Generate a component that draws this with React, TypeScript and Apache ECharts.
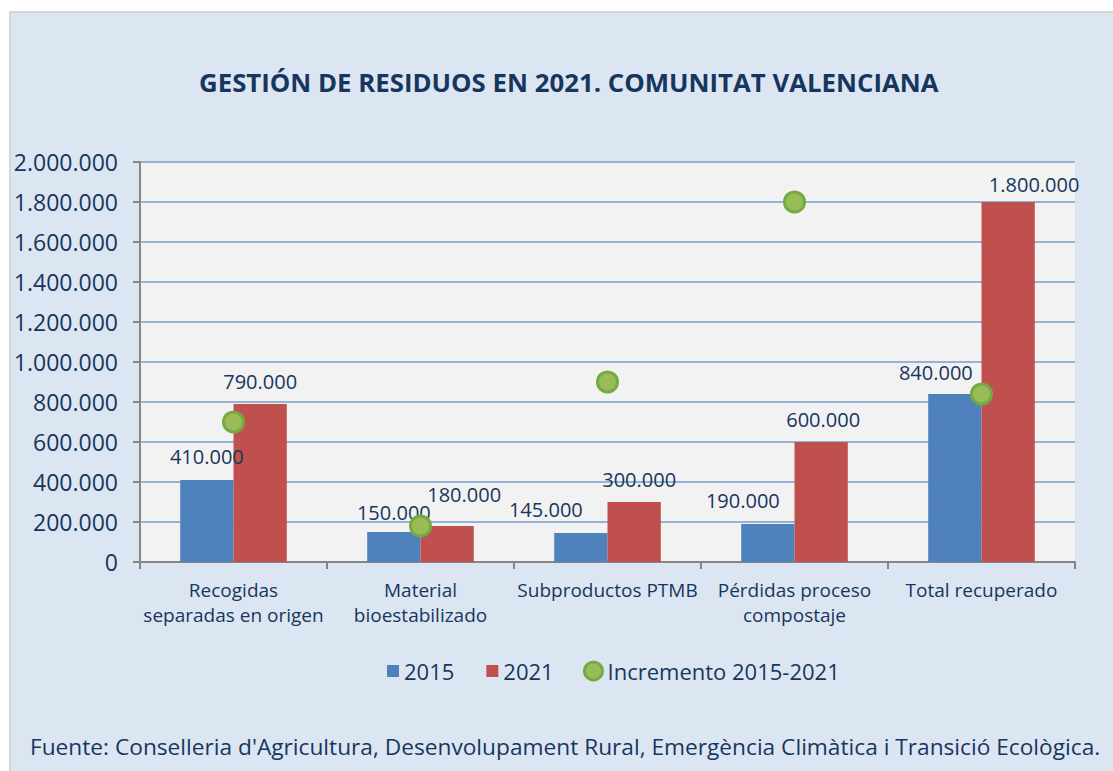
import React, { useEffect, useRef } from "react";
import * as echarts from "echarts";

const categories = [
  "Recogidas\nseparadas en origen",
  "Material\nbioestabilizado",
  "Subproductos PTMB",
  "Pérdidas proceso\ncompostaje",
  "Total recuperado",
];
const values2015 = [410000, 150000, 145000, 190000, 840000];
const values2021 = [790000, 180000, 300000, 600000, 1800000];
const increment = [700000, 180000, 900000, 1800000, 840000];
const yTicks = { min: 0, max: 2000000, interval: 200000 };

const title = "GESTIÓN DE RESIDUOS EN 2021. COMUNITAT VALENCIANA";
const source =
  "Fuente: Conselleria d'Agricultura, Desenvolupament Rural, Emergència Climàtica i Transició Ecològica.";

// label nudges (style only)
const shift2015 = [[0, -9], [0, -5], [-35, -9], [-25, -9], [-19, -7]];
const shift2021 = [[0, -8], [17, -17], [5, -8], [2, -8], [26, -3]];

const FONT = "Open Sans";
const TXT = "#17365d";

const fmt = (v: number) =>
  v.toString().replace(/\B(?=(\d{3})+(?!\d))/g, ".");

export default function App() {
  const ref = useRef<HTMLDivElement>(null);
  useEffect(() => {
    const chart = echarts.init(ref.current!, undefined, { renderer: "svg" });
    const mkData = (vals: number[], shifts: number[][]) =>
      vals.map((v, i) => ({
        value: v,
        label: { offset: shifts[i] },
      }));
    chart.setOption({
      animation: false,
      backgroundColor: "#ffffff",
      textStyle: { fontFamily: FONT, color: TXT },
      graphic: [
        {
          type: "rect",
          z: -100,
          silent: true,
          shape: { x: 10, y: 12, width: 1110, height: 770 },
          style: { fill: "#dce6f2", stroke: "#d6d6d6", lineWidth: 2 },
        },
        {
          type: "text",
          left: 30,
          top: 735,
          style: {
            text: source,
            font: `22.7px "${FONT}"`,
            fill: TXT,
          },
        },
      ],
      title: {
        text: title,
        left: 199,
        top: 69,
        padding: 0,
        textStyle: {
          fontFamily: FONT,
          fontWeight: "bold",
          fontSize: 25.8,
          color: TXT,
        },
      },
      legend: [
        {
          data: ["2015", "2021"],
          left: 387,
          top: 660,
          padding: 0,
          icon: "rect",
          itemWidth: 12,
          itemHeight: 12,
          itemGap: 32,
          textStyle: { fontFamily: FONT, fontSize: 22, color: TXT },
        },
        {
          data: ["Incremento 2015-2021"],
          left: 583,
          top: 660,
          padding: 0,
          icon: "circle",
          itemWidth: 18,
          itemHeight: 18,
          itemStyle: { color: "#9bbb59", borderColor: "#71ab41", borderWidth: 3 },
          textStyle: { fontFamily: FONT, fontSize: 22, color: TXT },
        },
      ],
      grid: {
        left: 140,
        right: 38,
        top: 162,
        bottom: 209,
        show: true,
        backgroundColor: "#f2f2f2",
        borderWidth: 0,
      },
      xAxis: {
        type: "category",
        data: categories,
        axisLine: { lineStyle: { color: "#868686", width: 2 } },
        axisTick: { show: true, length: 7, lineStyle: { color: "#868686", width: 2 } },
        axisLabel: {
          fontFamily: FONT,
          fontSize: 19,
          color: TXT,
          margin: 15,
          lineHeight: 25,
          interval: 0,
        },
      },
      yAxis: {
        type: "value",
        min: yTicks.min,
        max: yTicks.max,
        interval: yTicks.interval,
        axisLine: { show: true, lineStyle: { color: "#868686", width: 2 } },
        axisTick: { show: true, length: 7, lineStyle: { color: "#868686", width: 2 } },
        splitLine: { lineStyle: { color: "#95b3d7", width: 2 } },
        axisLabel: {
          fontFamily: FONT,
          fontSize: 23,
          color: TXT,
          margin: 22,
          formatter: (v: number) => fmt(v),
        },
      },
      series: [
        {
          name: "2015",
          type: "bar",
          data: mkData(values2015, shift2015),
          barGap: "0%",
          barCategoryGap: "43%",
          itemStyle: { color: "#4f81bd" },
          label: {
            show: true,
            position: "top",
            fontFamily: FONT,
            fontSize: 20,
            color: TXT,
            formatter: (p: any) => fmt(p.value),
          },
        },
        {
          name: "2021",
          type: "bar",
          data: mkData(values2021, shift2021),
          barGap: "0%",
          barCategoryGap: "43%",
          itemStyle: { color: "#c0504d" },
          label: {
            show: true,
            position: "top",
            fontFamily: FONT,
            fontSize: 20,
            color: TXT,
            formatter: (p: any) => fmt(p.value),
          },
        },
        {
          name: "Incremento 2015-2021",
          type: "scatter",
          data: increment,
          symbol: "circle",
          symbolSize: 20,
          z: 5,
          itemStyle: { color: "#9bbb59", borderColor: "#71ab41", borderWidth: 3, opacity: 1 },
        },
      ],
    });
    return () => chart.dispose();
  }, []);
  return (
    <div
      ref={ref}
      style={{ position: "fixed", left: 0, top: 0, width: 1113, height: 771 }}
    />
  );
}
